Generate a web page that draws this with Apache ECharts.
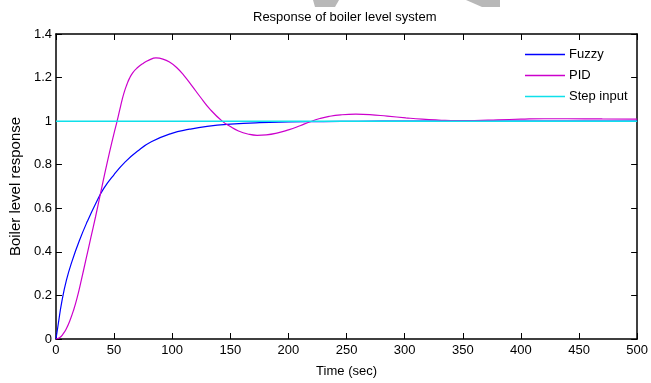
<!DOCTYPE html>
<html>
<head>
<meta charset="utf-8">
<script src="https://cdn.jsdelivr.net/npm/echarts@6/dist/echarts.min.js"></script>
<style>
  html, body { margin: 0; padding: 0; background: #fff; }
  #chart { width: 651px; height: 383px; }
</style>
</head>
<body>
<div id="chart"></div>
<script>
// values
const fuzzyTime = [0, 2, 5, 9, 14, 20, 27, 34, 41, 50, 60, 70, 82, 99, 115, 130, 150, 175, 200, 230, 260, 300, 400, 500]
const fuzzyLevel = [0, 0.07, 0.17, 0.27, 0.36, 0.45, 0.54, 0.62, 0.69, 0.755, 0.815, 0.862, 0.905, 0.943, 0.963, 0.976, 0.986, 0.993, 0.996, 0.998, 0.999, 1.0, 1.0, 1.0]

const pidTime = [0, 3, 6, 9, 12, 15, 18, 22, 26, 30, 34, 38, 42, 46, 50, 52.6, 55, 57, 59, 61, 63, 66, 70, 75, 80, 86, 92, 98, 104, 110, 117, 124, 133, 143, 150, 157, 165, 173, 181, 190, 200, 210, 218, 227, 235, 245, 258, 270, 285, 301, 315, 329, 345, 360, 380, 400, 420, 440, 470, 500]
const pidLevel = [0, 0.006, 0.022, 0.048, 0.085, 0.13, 0.185, 0.275, 0.37, 0.465, 0.56, 0.66, 0.76, 0.855, 0.945, 1.0, 1.055, 1.1, 1.138, 1.168, 1.194, 1.222, 1.245, 1.265, 1.28, 1.29, 1.285, 1.27, 1.245, 1.21, 1.162, 1.112, 1.052, 1.0, 0.975, 0.955, 0.941, 0.935, 0.937, 0.945, 0.96, 0.979, 0.996, 1.012, 1.022, 1.029, 1.032, 1.03, 1.023, 1.015, 1.009, 1.005, 1.002, 1.003, 1.006, 1.009, 1.011, 1.011, 1.01, 1.009]

const stepTime = [0, 500]
const stepLevel = [1, 1]

const seriesNames = ['Fuzzy', 'PID', 'Step input']
const seriesColors = ['#0000ff', '#cc00cc', '#0fe0ea']

const zip = (xs, ys) => xs.map((x, i) => [x, ys[i]])

const font = 'Liberation Sans, Arial, sans-serif'
const black = '#000'

const chart = echarts.init(document.getElementById('chart'))

const frameAxis = {
  axisLine: { show: true, onZero: false, lineStyle: { color: black, width: 1.5 } },
  axisTick: { show: true, inside: true, length: 6, lineStyle: { color: black, width: 1 } },
  splitLine: { show: false },
}

const option = {
  backgroundColor: '#fff',
  animation: false,
  // faint grey watermark pieces cut off at the top edge of the scan
  graphic: [
    { type: 'polygon', shape: { points: [[313, 0], [339, 0], [335, 7], [315, 7]] }, style: { fill: '#b8b8b8' }, silent: true },
    { type: 'polygon', shape: { points: [[466, 0], [500, 0], [500, 7], [482, 7]] }, style: { fill: '#b8b8b8' }, silent: true },
  ],
  title: {
    text: 'Response of boiler level system',
    left: 253,
    top: 11,
    padding: 0,
    textStyle: { fontFamily: font, fontSize: 13, fontWeight: 'normal', color: black },
  },
  legend: {
    orient: 'vertical',
    left: 525,
    top: 48,
    padding: 0,
    itemWidth: 40,
    itemHeight: 14,
    itemGap: 8,
    icon: 'path://M0,0 L40,0 L40,1.3 L0,1.3 Z',
    data: seriesNames,
    textStyle: { fontFamily: font, fontSize: 13, color: black, padding: [0, 0, 0, -1] },
  },
  grid: { left: 54, right: 11, top: 34, bottom: 41 },
  xAxis: [
    {
      ...frameAxis,
      type: 'value',
      position: 'bottom',
      min: 0,
      max: 500,
      interval: 50,
      name: 'Time (sec)',
      nameLocation: 'middle',
      nameGap: 26,
      nameTextStyle: { fontFamily: font, fontSize: 13, color: black },
      axisLabel: { fontFamily: font, fontSize: 13, color: black, margin: 5 },
    },
    {
      ...frameAxis,
      type: 'value',
      position: 'top',
      min: 0,
      max: 500,
      interval: 50,
      axisLabel: { show: false },
    },
  ],
  yAxis: [
    {
      ...frameAxis,
      type: 'value',
      position: 'left',
      min: 0,
      max: 1.4,
      interval: 0.2,
      name: 'Boiler level response',
      nameLocation: 'middle',
      nameGap: 28,
      nameTextStyle: { fontFamily: font, fontSize: 15, color: black },
      axisLabel: { fontFamily: font, fontSize: 13, color: black, margin: 4 },
    },
    {
      ...frameAxis,
      type: 'value',
      position: 'right',
      min: 0,
      max: 1.4,
      interval: 0.2,
      axisLabel: { show: false },
    },
  ],
  series: [
    {
      name: seriesNames[0],
      type: 'line',
      smooth: 0.5,
      symbol: 'none',
      data: zip(fuzzyTime, fuzzyLevel),
      lineStyle: { color: seriesColors[0], width: 1.2 },
      itemStyle: { color: seriesColors[0] },
    },
    {
      name: seriesNames[1],
      type: 'line',
      smooth: 0.5,
      symbol: 'none',
      data: zip(pidTime, pidLevel),
      lineStyle: { color: seriesColors[1], width: 1.2 },
      itemStyle: { color: seriesColors[1] },
    },
    {
      name: seriesNames[2],
      type: 'line',
      symbol: 'none',
      data: zip(stepTime, stepLevel),
      lineStyle: { color: seriesColors[2], width: 1.5 },
      itemStyle: { color: seriesColors[2] },
    },
  ],
}

chart.setOption(option)
</script>
</body>
</html>
